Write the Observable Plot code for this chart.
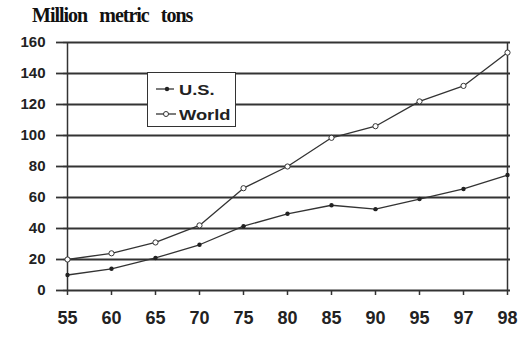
<!DOCTYPE html>
<html><head><meta charset="utf-8">
<script src="https://cdn.jsdelivr.net/npm/d3@7"></script>
<script src="https://cdn.jsdelivr.net/npm/@observablehq/plot@0.6"></script>
<style>
body{margin:0;background:#fff;}
#wrap{position:relative;width:522px;height:337px;overflow:hidden;}
#chart{position:absolute;left:0;top:32px;}
#title{position:absolute;left:32px;top:3px;font-family:"Liberation Serif",serif;font-weight:bold;font-size:20px;line-height:24px;letter-spacing:-1px;word-spacing:8px;color:#111;white-space:nowrap;}
#legend{position:absolute;left:147px;top:72px;width:89px;height:55px;box-sizing:border-box;border:1.5px solid #333;background:#fff;font-family:"Liberation Sans",Arial,sans-serif;font-weight:bold;font-size:15px;color:#222;}
#legend svg{position:absolute;left:6px;}
#legend span{position:absolute;left:31px;line-height:18px;transform:scaleX(1.22);transform-origin:0 50%;white-space:nowrap;}
</style></head>
<body><div id="wrap"><div id="title">Million metric tons</div><div id="chart"></div>
<div id="legend">
<svg style="top:11px" width="24" height="10"><line x1="2" y1="5" x2="20" y2="5" stroke="#333" stroke-width="1.3"/><circle cx="13" cy="5" r="2.2" fill="#222"/></svg><span style="top:8px">U.S.</span>
<svg style="top:36px" width="24" height="10"><line x1="2" y1="5" x2="22" y2="5" stroke="#333" stroke-width="1.3"/><circle cx="12" cy="5" r="2.5" fill="#fff" stroke="#333" stroke-width="1"/></svg><span style="top:33px">World</span>
</div></div>
<script>
const years = ["55","60","65","70","75","80","85","90","95","97","98"];
const usValues = [10, 14, 21, 29.5, 41.5, 49.5, 55, 52.5, 59, 65.5, 74.5];
const worldValues = [20, 24, 31, 42, 66, 80, 98.5, 106, 122, 132, 153.5];
const yTicks = [0, 20, 40, 60, 80, 100, 120, 140, 160];

const us = years.map((y, i) => ({year: y, value: usValues[i]}));
const world = years.map((y, i) => ({year: y, value: worldValues[i]}));

const chart = Plot.plot({
  width: 522, height: 305,
  marginLeft: 63, marginRight: 12, marginTop: 10, marginBottom: 47,
  style: {background: "#fff", color: "#222"},
  x: {type: "point", domain: years, padding: 0},
  y: {domain: [0, 160], ticks: yTicks},
  marks: [
    Plot.ruleY(yTicks, {stroke: "#333", strokeWidth: 1.8}),
    Plot.ruleX([years[0], years[years.length-1]], {stroke: "#333", strokeWidth: 1.5}),
    Plot.axisY({ticks: yTicks, tickSize: 7, tickPadding: 11, stroke: "#333", strokeWidth: 1.8,
      fontSize: 15, fontWeight: "bold", fontFamily: "Liberation Sans, Arial, sans-serif", fill: "#222", label: null,
      style: {letterSpacing: "0.8px"}}),
    Plot.axisX({tickSize: 5, tickPadding: 16, stroke: "#333", strokeWidth: 1.5,
      fontSize: 18, fontWeight: "bold", fontFamily: "Liberation Sans, Arial, sans-serif", fill: "#222", label: null}),
    Plot.line(world, {x: "year", y: "value", stroke: "#333", strokeWidth: 1.3}),
    Plot.line(us, {x: "year", y: "value", stroke: "#333", strokeWidth: 1.3}),
    Plot.dot(world, {x: "year", y: "value", r: 2.6, fill: "#fff", stroke: "#333", strokeWidth: 1}),
    Plot.dot(us, {x: "year", y: "value", r: 2.2, fill: "#222", stroke: "none"})
  ]
});
document.getElementById("chart").appendChild(chart);
</script></body></html>
